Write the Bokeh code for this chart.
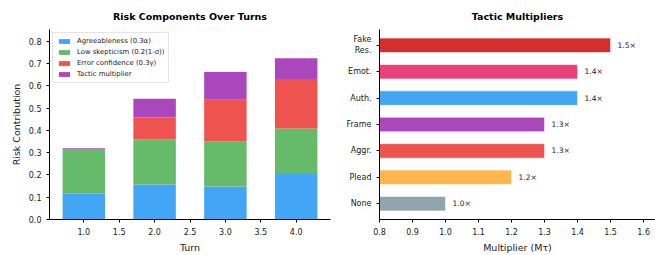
from bokeh.plotting import figure
from bokeh.layouts import row
from bokeh.models import (ColumnDataSource, FixedTicker, Range1d, Legend, LegendItem,
                          NumeralTickFormatter)
from bokeh.embed import file_html
from bokeh.resources import INLINE
from bokeh.core.properties import value

# ---------------- data ----------------
turns = [1, 2, 3, 4]
agree = [0.116, 0.157, 0.148, 0.204]
low_skep = [0.200, 0.203, 0.203, 0.205]
err_conf = [0.0, 0.098, 0.187, 0.222]
tactic = [0.004, 0.084, 0.124, 0.093]
stack_keys = ["agree", "low_skep", "err_conf", "tactic"]
stack_labels = ["Agreeableness (0.3α)", "Low skepticism (0.2(1-σ))",
                "Error confidence (0.3γ)", "Tactic multiplier"]
stack_colors = ["#42A5F5", "#66BB6A", "#EF5350", "#AB47BC"]
turn_ticks = [1.0, 1.5, 2.0, 2.5, 3.0, 3.5, 4.0]
risk_ticks = [0.0, 0.1, 0.2, 0.3, 0.4, 0.5, 0.6, 0.7, 0.8]

tactic_names = ["None", "Plead", "Aggr.", "Frame", "Auth.", "Emot.", "Fake\nRes."]
tactic_pos = [0, 1, 2, 3, 4, 5, 6]
multipliers = [1.0, 1.2, 1.3, 1.3, 1.4, 1.4, 1.5]
mult_labels = ["1.0×", "1.2×", "1.3×", "1.3×", "1.4×", "1.4×", "1.5×"]
tactic_colors = ["#90A4AE", "#FFB74D", "#EF5350", "#AB47BC", "#42A5F5", "#EC407A", "#D32F2F"]
mult_ticks = [0.8, 0.9, 1.0, 1.1, 1.2, 1.3, 1.4, 1.5, 1.6]

FONT = "DejaVu Sans"
TXT = "#1a1a1a"


def style_axes(p):
    for ax in (p.xaxis[0], p.yaxis[0]):
        ax.axis_line_color = "black"
        ax.axis_line_width = 1
        ax.major_tick_line_color = "black"
        ax.major_tick_out = 3
        ax.major_tick_in = 0
        ax.minor_tick_line_color = None
        ax.major_label_text_font = FONT
        ax.major_label_text_font_size = "8px"
        ax.major_label_text_color = TXT
        ax.major_label_standoff = 5
        ax.axis_label_text_font = FONT
        ax.axis_label_text_font_size = "9.5px"
        ax.axis_label_text_font_style = "normal"
        ax.axis_label_text_color = TXT
        ax.axis_label_standoff = 4
    p.xgrid.grid_line_color = None
    p.ygrid.grid_line_color = None
    p.outline_line_color = None
    p.title.text_font = FONT
    p.title.text_font_size = "9.5px"
    p.title.text_font_style = "bold"
    p.title.align = "center"
    p.title.text_color = "black"
    p.title.standoff = 16


# ---------------- left: stacked bars ----------------
src = ColumnDataSource(dict(turn=turns, agree=agree, low_skep=low_skep,
                            err_conf=err_conf, tactic=tactic))
p1 = figure(width=338, height=255, output_backend="svg", toolbar_location=None,
            title="Risk Components Over Turns",
            x_range=Range1d(0.515, 4.485), y_range=Range1d(0, 0.853),
            min_border_left=49, min_border_right=8, min_border_top=29, min_border_bottom=34)
rs = p1.vbar_stack(stack_keys, x="turn", width=0.6, color=stack_colors,
                   line_color=None, source=src)
p1.xaxis.ticker = FixedTicker(ticks=turn_ticks)
p1.xaxis.formatter = NumeralTickFormatter(format="0.0")
p1.yaxis.ticker = FixedTicker(ticks=risk_ticks)
p1.yaxis.formatter = NumeralTickFormatter(format="0.0")
p1.xaxis.axis_label = "Turn"
p1.yaxis.axis_label = "Risk Contribution"
style_axes(p1)

legend = Legend(items=[LegendItem(label=l, renderers=[r]) for l, r in zip(stack_labels, rs)],
                location="top_left")
legend.label_text_font = FONT
legend.label_text_font_size = "6.9px"
legend.label_text_color = TXT
legend.glyph_width = 14
legend.glyph_height = 6
legend.label_height = 7
legend.label_standoff = 6
legend.spacing = 3
legend.padding = 4
legend.margin = 3
legend.border_line_color = "#cccccc"
legend.border_line_width = 0.8
legend.background_fill_alpha = 0.9
p1.add_layout(legend)

# ---------------- right: horizontal bars ----------------
src2 = ColumnDataSource(dict(pos=tactic_pos, mult=multipliers, lab=mult_labels,
                             color=tactic_colors))
p2 = figure(width=317, height=255, output_backend="svg", toolbar_location=None,
            title="Tactic Multipliers",
            x_range=Range1d(0.8, 1.636), y_range=Range1d(-0.6, 6.6),
            min_border_left=41, min_border_right=0, min_border_top=29, min_border_bottom=34)
p2.hbar(y="pos", left=0, right="mult", height=0.55, fill_color="color",
        line_color="white", line_width=0.6, source=src2)
p2.text(x="mult", y="pos", text="lab", x_offset=7, text_baseline="middle",
        text_align="left", text_font=value(FONT), text_font_size="7.5px",
        text_color=TXT, source=src2)
p2.xaxis.ticker = FixedTicker(ticks=mult_ticks)
p2.xaxis.formatter = NumeralTickFormatter(format="0.0")
p2.yaxis.ticker = FixedTicker(ticks=tactic_pos)
p2.yaxis.major_label_overrides = {i: n for i, n in zip(tactic_pos, tactic_names)}
p2.xaxis.axis_label = "Multiplier (Mτ)"
style_axes(p2)

layout = row(p1, p2)
open("out.html", "w").write(file_html(layout, INLINE))
